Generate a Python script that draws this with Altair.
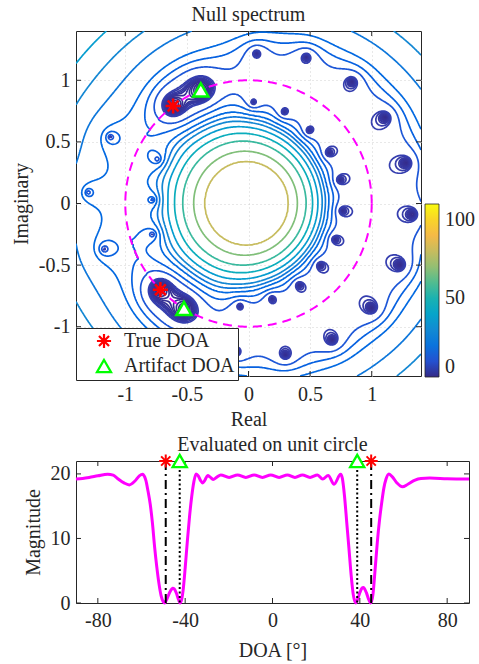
import numpy as np
import pandas as pd
import altair as alt
from collections import defaultdict

# ---------------- values ----------------
# roots of the null-spectrum polynomial (dots in the top panel)
inner_re = [-0.74, -0.78, -0.78, 0.04, 0.29, 0.49, 0.65, 0.74, 0.76, 0.70, 0.58, 0.41, 0.19, -0.07]
inner_im = [0.36, 0.03, -0.25, 0.82, 0.74, 0.59, 0.41, 0.19, -0.06, -0.29, -0.50, -0.66, -0.77, -0.83]
outer_re = [-1.30, -1.12, 0.065, 0.47, 0.84, 1.11, 1.28, 1.33, 1.23, 1.00, 0.68, 0.30, -0.10, -1.17]
outer_im = [0.09, 0.54, 1.22, 1.19, 0.99, 0.70, 0.33, -0.09, -0.50, -0.85, -1.11, -1.23, -1.21, -0.37]
true_doa = [-48.9, 45.2]
artifact_doa = [-42.5, 38.8]
doa_root_radius = 0.985

# contour radii / colorbar values
inner_contour_radius = [0.71, 0.68, 0.65, 0.61, 0.56, 0.50, 0.42, 0.34, 0.05]
inner_contour_value = [16, 22, 29, 37, 46, 56, 67, 80, 108]
outer_contour_radius = [1.40, 1.56, 1.74, 1.93, 2.15]
outer_contour_value = [16, 22, 29, 37, 46]
flat_value = 9.0
contour_levels = [0.5, 0.9, 1.4, 1.8, 2.3, 2.8, 3.2, 3.7, 4.6, 5.5,
                  11, 13.4, 16, 22, 29, 37, 46, 56, 67, 80]

# bottom panel: magnitude on the unit circle
bottom_doa = [-90, -87, -84, -80, -75.5, -73, -71, -68, -65.6, -63, -61, -59.5, -58.5, -58,
              -57, -56, -55, -54, -53, -52, -51, -50, -49.5, -49, -48, -47, -46, -45.7, -45,
              -44, -43, -42.3, -41.5, -41, -40, -39, -38, -37, -36, -35, -34, -33, -32, -31,
              -29.7, -28.5, -27.2, -25.5, -23.7, -19.9, -16.0, -12.2, -8.4, -4.6, -0.8, 3.0,
              6.8, 10.3, 13.7, 17.2, 20.6, 23.0, 25.5, 28.2, 31.2, 32, 33, 34, 35, 36, 37,
              38.1, 39, 40, 41, 41.6, 42, 43, 44, 45, 46, 47, 48, 49, 50, 51, 52, 53.3, 55,
              57, 59.5, 62, 65, 68, 72, 80, 90]
bottom_mag = [19.2, 19.3, 19.45, 19.7, 19.95, 19.8, 19.3, 18.6, 18.3, 18.9, 19.7, 19.95, 19.5, 19.0,
              17.3, 15.3, 12.4, 8.7, 5.6, 3.0, 1.1, 0.15, 0.0, 0.2, 0.9, 1.7, 2.2, 2.3, 2.2,
              1.5, 0.5, 0.0, 0.7, 1.8, 5.4, 9.6, 13.4, 16.5, 18.8, 20.0, 19.7, 19.0, 18.6, 19.0,
              19.75, 19.5, 19.15, 19.5, 19.85, 19.45, 19.85, 19.45, 19.85, 19.45, 19.85, 19.45,
              19.85, 19.45, 19.85, 19.45, 19.85, 19.2, 19.75, 18.4, 19.95, 19.3, 16.5, 12.5, 8.5,
              4.4, 1.3, 0.0, 0.6, 1.6, 2.3, 2.4, 2.3, 1.6, 0.6, 0.0, 1.3, 5.2, 9.4, 12.8, 15.5,
              17.8, 19.2, 20.0, 19.5, 18.6, 18.0, 18.4, 19.0, 19.3, 19.35, 19.25, 19.2]

# MATLAB parula colormap (64 entries)
parula = [
    (0.2081, 0.1663, 0.5292), (0.2116, 0.1898, 0.5777), (0.2123, 0.2138, 0.6270), (0.2081, 0.2386, 0.6771),
    (0.1959, 0.2645, 0.7279), (0.1707, 0.2919, 0.7792), (0.1253, 0.3242, 0.8303), (0.0591, 0.3598, 0.8683),
    (0.0117, 0.3875, 0.8820), (0.0060, 0.4086, 0.8828), (0.0165, 0.4266, 0.8786), (0.0329, 0.4430, 0.8720),
    (0.0498, 0.4586, 0.8641), (0.0629, 0.4737, 0.8554), (0.0723, 0.4887, 0.8467), (0.0779, 0.5040, 0.8384),
    (0.0793, 0.5200, 0.8312), (0.0749, 0.5375, 0.8263), (0.0641, 0.5570, 0.8240), (0.0488, 0.5772, 0.8228),
    (0.0343, 0.5966, 0.8199), (0.0265, 0.6137, 0.8135), (0.0239, 0.6287, 0.8038), (0.0231, 0.6418, 0.7913),
    (0.0228, 0.6535, 0.7768), (0.0267, 0.6642, 0.7607), (0.0384, 0.6743, 0.7436), (0.0590, 0.6838, 0.7254),
    (0.0843, 0.6928, 0.7062), (0.1133, 0.7015, 0.6859), (0.1453, 0.7098, 0.6646), (0.1801, 0.7177, 0.6424),
    (0.2178, 0.7250, 0.6193), (0.2586, 0.7317, 0.5954), (0.3022, 0.7376, 0.5712), (0.3482, 0.7424, 0.5473),
    (0.3953, 0.7459, 0.5244), (0.4420, 0.7481, 0.5033), (0.4871, 0.7491, 0.4840), (0.5300, 0.7491, 0.4661),
    (0.5709, 0.7485, 0.4494), (0.6099, 0.7473, 0.4337), (0.6473, 0.7456, 0.4188), (0.6834, 0.7435, 0.4044),
    (0.7184, 0.7411, 0.3905), (0.7525, 0.7384, 0.3768), (0.7858, 0.7356, 0.3633), (0.8185, 0.7327, 0.3498),
    (0.8507, 0.7299, 0.3360), (0.8824, 0.7274, 0.3217), (0.9139, 0.7258, 0.3063), (0.9450, 0.7261, 0.2886),
    (0.9739, 0.7314, 0.2666), (0.9938, 0.7455, 0.2403), (0.9990, 0.7653, 0.2164), (0.9955, 0.7861, 0.1967),
    (0.9880, 0.8066, 0.1794), (0.9789, 0.8271, 0.1633), (0.9697, 0.8481, 0.1475), (0.9626, 0.8705, 0.1309),
    (0.9589, 0.8949, 0.1132), (0.9598, 0.9218, 0.0948), (0.9661, 0.9514, 0.0755), (0.9763, 0.9831, 0.0538)]
parula_hex = ["#%02x%02x%02x" % tuple(int(round(c * 255)) for c in rgb) for rgb in parula]

# ---------------- null-spectrum field from the roots ----------------
doa_all = np.array(true_doa + artifact_doa)
phi = np.pi * np.sin(np.deg2rad(doa_all))
roots = np.concatenate([
    np.array(inner_re) + 1j * np.array(inner_im),
    np.array(outer_re) + 1j * np.array(outer_im),
    doa_root_radius * np.exp(1j * phi),
    np.exp(1j * phi) / doa_root_radius])
rad = np.abs(roots)
p_order = int(np.sum(rad < 1))
c0 = float(np.sum(np.log(rad[rad > 1])))

n = 301
g = np.linspace(-1.4, 1.4, n)
X, Y = np.meshgrid(g, g)
Zg = X + 1j * Y
h = -p_order * np.log(np.maximum(np.abs(Zg), 1e-9)) - c0
for r in roots:
    h = h + np.log(np.abs(Zg - r) + 1e-12)


def hbar(rr):
    rr = np.asarray(rr, float)
    return np.array([np.sum(np.log(np.maximum(x, rad))) - p_order * np.log(x) - c0 for x in rr])


hk_in = hbar(inner_contour_radius)
hk_out = hbar(outer_contour_radius)
V_in = np.interp(h, np.r_[0.0, hk_in], np.r_[flat_value, inner_contour_value])
V_out = np.interp(h, np.r_[0.0, hk_out], np.r_[flat_value, outer_contour_value])
V = np.where(h <= 0, flat_value * np.exp(np.minimum(h, 0)),
             np.where(np.abs(Zg) < 1, V_in, V_out))


def iso_paths(V, gx, gy, level):
    ny, nx = V.shape
    dx = gx[1] - gx[0]
    dy = gy[1] - gy[0]
    A = V > level
    with np.errstate(divide="ignore", invalid="ignore"):
        th = np.clip((level - V[:, :-1]) / (V[:, 1:] - V[:, :-1]), 0, 1)
        tv = np.clip((level - V[:-1, :]) / (V[1:, :] - V[:-1, :]), 0, 1)
    hx = (gx[:-1][None, :] + th * dx).ravel()
    hy = np.repeat(gy, nx - 1)
    vx = np.tile(gx, ny - 1)
    vy = (gy[:-1][:, None] + tv * dy).ravel()
    PX = np.concatenate([hx, vx])
    PY = np.concatenate([hy, vy])
    H = ny * (nx - 1)
    hid = np.arange(H).reshape(ny, nx - 1)
    vid = H + np.arange((ny - 1) * nx).reshape(ny - 1, nx)
    hc = A[:, :-1] != A[:, 1:]
    vc = A[:-1, :] != A[1:, :]
    C = np.stack([hc[:-1, :], vc[:, 1:], hc[1:, :], vc[:, :-1]], axis=-1).reshape(-1, 4)
    E = np.stack([hid[:-1, :], vid[:, 1:], hid[1:, :], vid[:, :-1]], axis=-1).reshape(-1, 4)
    cnt = C.sum(1)
    m2 = cnt == 2
    idx = np.argsort(~C[m2], axis=1, kind="stable")[:, :2]
    S = np.take_along_axis(E[m2], idx, axis=1)
    m4 = cnt == 4
    if m4.any():
        bl = V[:-1, :-1].ravel()[m4]
        br = V[:-1, 1:].ravel()[m4]
        tr = V[1:, 1:].ravel()[m4]
        tl = V[1:, :-1].ravel()[m4]
        same = ((bl + br + tr + tl) / 4 > level) == (bl > level)
        E4 = E[m4]
        s1 = np.where(same[:, None], E4[:, [0, 1]], E4[:, [0, 3]])
        s2 = np.where(same[:, None], E4[:, [2, 3]], E4[:, [2, 1]])
        S = np.vstack([S, s1, s2])
    adj = defaultdict(list)
    for a, b in S.tolist():
        adj[a].append(b)
        adj[b].append(a)
    used = set()
    paths = []
    starts = [k for k, v in adj.items() if len(v) == 1] + list(adj.keys())
    for s in starts:
        if s in used:
            continue
        path = [s]
        used.add(s)
        cur = s
        while True:
            nxt = None
            for nb in adj[cur]:
                if nb not in used:
                    nxt = nb
                    break
            if nxt is None:
                break
            path.append(nxt)
            used.add(nxt)
            cur = nxt
        if len(path) > 2 and s in adj[cur]:
            path.append(s)
        paths.append(np.column_stack([PX[path], PY[path]]))
    return paths


rows = []
pid = 0
for lev in contour_levels:
    for pth in iso_paths(V, g, g, lev):
        for k, (px, py) in enumerate(pth):
            rows.append((pid, k, round(float(px), 4), round(float(py), 4), lev))
        pid += 1
contours = pd.DataFrame(rows, columns=["pid", "o", "x", "y", "level"])

ang = np.linspace(0, 2 * np.pi, 361)
circle = pd.DataFrame({"x": np.cos(ang), "y": np.sin(ang), "o": np.arange(361)})

labels = ["True DOA"] * len(true_doa) + ["Artifact DOA"] * len(artifact_doa)
zd = np.exp(1j * phi)
doa_pts = pd.DataFrame({"x": zd.real, "y": zd.imag, "kind": labels})

bottom = pd.DataFrame({"doa": bottom_doa, "mag": bottom_mag})
true_df = pd.DataFrame({"doa": true_doa})
art_df = pd.DataFrame({"doa": artifact_doa})

# ---------------- chart ----------------
FONT = "Liberation Serif"
TXT = "#262626"
W1, H1 = 345, 345
W2, H2 = 393, 142
STAR = "M-1,0L1,0M0,-1L0,1M-0.71,-0.71L0.71,0.71M-0.71,0.71L0.71,-0.71"
TL = 5

top_ticks = pd.DataFrame({"v": [-1, -0.5, 0, 0.5, 1]})
xscale1 = alt.Scale(domain=[-1.4, 1.4], nice=False, zero=False)
yscale1 = alt.Scale(domain=[-1.4, 1.4], nice=False, zero=False)
xaxis1 = alt.Axis(values=[-1, -0.5, 0, 0.5, 1], title="Real", grid=True, gridDash=[1, 3],
                  gridColor="#d0d0d0", ticks=False, tickSize=0, domain=False,
                  labelExpr="datum.value + ''", labelPadding=8, titlePadding=5)
yaxis1 = alt.Axis(values=[-1, -0.5, 0, 0.5, 1], title="Imaginary", grid=True, gridDash=[1, 3],
                  gridColor="#d0d0d0", ticks=False, tickSize=0, domain=False,
                  labelExpr="datum.value + ''", labelPadding=6, titlePadding=7)


def X1(f):
    return alt.X(f, scale=xscale1, axis=xaxis1)


def Y1(f):
    return alt.Y(f, scale=yscale1, axis=yaxis1)


lines = alt.Chart(contours).mark_line(strokeWidth=1.7, clip=True).encode(
    x=X1("x:Q"), y=Y1("y:Q"), detail="pid:N", order="o:Q",
    stroke=alt.Stroke("level:Q", scale=alt.Scale(domain=[0, 110], range=parula_hex),
                      legend=alt.Legend(orient="none", legendX=349, legendY=173, direction="vertical",
                                        gradientLength=173, gradientThickness=14, values=[0, 50, 100],
                                        title=None, padding=0, gradientStrokeColor=TXT,
                                        gradientStrokeWidth=0.8, labelOffset=6)))

unit = alt.Chart(circle).mark_line(color="#ff00ff", strokeWidth=2, strokeDash=[9, 6], clip=True).encode(
    x=X1("x:Q"), y=Y1("y:Q"), order="o:Q")

pt_legend = alt.Legend(orient="none", legendX=0, legendY=H1 - 48, title=None, fillColor="white",
                       strokeColor=TXT, padding=3, symbolOffset=15, labelOffset=10, rowPadding=2,
                       symbolSize=200, symbolStrokeWidth=2.2, labelFontSize=20)
dpts = alt.Chart(doa_pts).mark_point(filled=False, fill="white", fillOpacity=1, opacity=1,
                                     strokeWidth=2.5, size=230).encode(
    x=X1("x:Q"), y=Y1("y:Q"),
    color=alt.Color("kind:N", scale=alt.Scale(domain=["True DOA", "Artifact DOA"],
                                              range=["#ff0000", "#00ff00"]), legend=pt_legend),
    shape=alt.Shape("kind:N", scale=alt.Scale(domain=["True DOA", "Artifact DOA"],
                                              range=[STAR, "triangle-up"]), legend=pt_legend))

tk = alt.Chart(top_ticks).mark_rule(color=TXT, strokeWidth=1)
ticks1 = [
    tk.encode(x=X1("v:Q"), y=alt.value(H1), y2=alt.value(H1 - TL)),
    tk.encode(x=X1("v:Q"), y=alt.value(0), y2=alt.value(TL)),
    tk.encode(y=Y1("v:Q"), x=alt.value(0), x2=alt.value(TL)),
    tk.encode(y=Y1("v:Q"), x=alt.value(W1 - TL), x2=alt.value(W1)),
]

top = alt.layer(lines, unit, *ticks1, dpts).properties(
    width=W1, height=H1, title=alt.TitleParams("Null spectrum", offset=6))

# bottom panel
xscale2 = alt.Scale(domain=[-90, 90], nice=False, zero=False)
yscale2 = alt.Scale(domain=[0, 22], nice=False, zero=False)
xaxis2 = alt.Axis(values=[-80, -40, 0, 40, 80], title="DOA [°]", grid=False, ticks=False, tickSize=0,
                  domain=False, labelExpr="datum.value + ''", labelPadding=7, titlePadding=10)
yaxis2 = alt.Axis(values=[0, 10, 20], title="Magnitude", grid=False, ticks=False, tickSize=0,
                  domain=False, labelExpr="datum.value + ''", labelPadding=6, titlePadding=7)


def X2(f):
    return alt.X(f, scale=xscale2, axis=xaxis2)


def Y2(f):
    return alt.Y(f, scale=yscale2, axis=yaxis2)


mag_line = alt.Chart(bottom).mark_line(color="#ff00ff", strokeWidth=3, interpolate="monotone").encode(
    x=X2("doa:Q"), y=Y2("mag:Q"))
true_rules = alt.Chart(true_df).mark_rule(color="black", strokeWidth=2, strokeDash=[9, 4, 2, 4]).encode(
    x=X2("doa:Q"), y=alt.value(0), y2=alt.value(H2))
art_rules = alt.Chart(art_df).mark_rule(color="black", strokeWidth=2, strokeDash=[2, 2.5]).encode(
    x=X2("doa:Q"), y=alt.value(0), y2=alt.value(H2))
true_mk = alt.Chart(true_df).mark_point(shape=STAR, color="#ff0000", filled=False, strokeWidth=2,
                                        size=170, opacity=1).encode(x=X2("doa:Q"), y=alt.value(0))
art_mk = alt.Chart(art_df).mark_point(shape="triangle-up", color="#00ff00", filled=False, fill="white",
                                      fillOpacity=1, strokeWidth=2.3, size=200, opacity=1).encode(
    x=X2("doa:Q"), y=alt.value(0))

bt_x = pd.DataFrame({"v": [-80, -40, 0, 40, 80]})
bt_y = pd.DataFrame({"v": [0, 10, 20]})
ticks2 = [
    alt.Chart(bt_x).mark_rule(color=TXT).encode(x=X2("v:Q"), y=alt.value(H2), y2=alt.value(H2 - TL)),
    alt.Chart(bt_x).mark_rule(color=TXT).encode(x=X2("v:Q"), y=alt.value(0), y2=alt.value(TL)),
    alt.Chart(bt_y).mark_rule(color=TXT).encode(y=Y2("v:Q"), x=alt.value(0), x2=alt.value(TL)),
    alt.Chart(bt_y).mark_rule(color=TXT).encode(y=Y2("v:Q"), x=alt.value(W2 - TL), x2=alt.value(W2)),
]

bot = alt.layer(mag_line, true_rules, art_rules, *ticks2, true_mk, art_mk).properties(
    width=W2, height=H2, title=alt.TitleParams("Evaluated on unit circle", offset=-5))

chart = alt.vconcat(top, bot, spacing=4).properties(
    padding={"left": 10, "top": 4, "right": 0, "bottom": 0}
).configure_view(stroke=TXT, strokeWidth=1).configure_axis(
    labelFont=FONT, titleFont=FONT, labelFontSize=20, titleFontSize=20, labelColor=TXT,
    titleColor=TXT, titleFontWeight="normal"
).configure_legend(labelFont=FONT, labelFontSize=20, labelColor=TXT).configure_title(
    font=FONT, fontSize=20, fontWeight="normal", color=TXT)

chart.save("out.html", embed_options={"renderer": "svg", "actions": False})
